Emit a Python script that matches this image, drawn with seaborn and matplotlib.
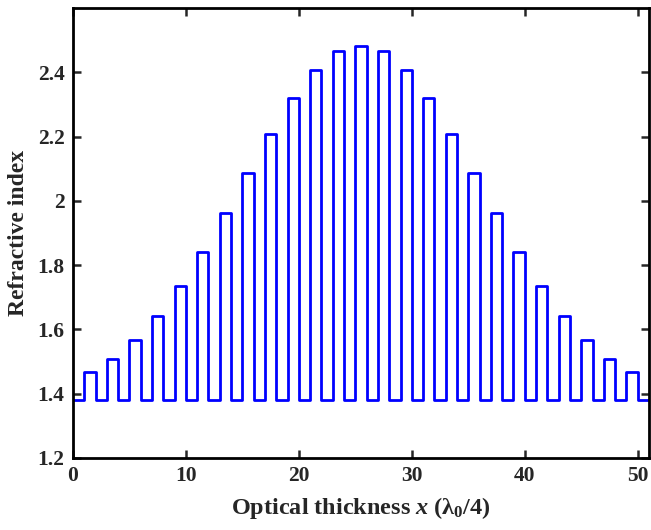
import numpy as np
import pandas as pd
import seaborn as sns
from matplotlib import pyplot as plt
from matplotlib.ticker import FormatStrFormatter

# graded quarter-wave stack: low-index layers alternate with high-index layers
n_low = 1.38
n_high = [1.467, 1.509, 1.567, 1.642, 1.734, 1.842, 1.962, 2.087, 2.209, 2.320,
          2.407, 2.465, 2.482, 2.465, 2.407, 2.320, 2.209, 2.087, 1.962, 1.842,
          1.734, 1.642, 1.567, 1.509, 1.467]
x_ticks = [0, 10, 20, 30, 40, 50]
y_ticks = [1.2, 1.4, 1.6, 1.8, 2.0, 2.2, 2.4]

# layer sequence L H L H ... H L, each one quarter wave thick
layers = [n_low]
for h in n_high:
    layers += [h, n_low]
edges = np.arange(len(layers) + 1)
df = pd.DataFrame({"x": edges, "n": layers + [layers[-1]]})

sns.set_style("ticks")
plt.rcParams["font.family"] = ["Liberation Serif", "DejaVu Serif"]
plt.rcParams["font.weight"] = "bold"
plt.rcParams["mathtext.fontset"] = "custom"
plt.rcParams["mathtext.rm"] = "Liberation Serif:bold"
plt.rcParams["mathtext.it"] = "Liberation Serif:bold:italic"

fig = plt.figure(figsize=(6.51, 5.30), dpi=100)
ax = fig.add_axes([0.112, 0.136, 0.885, 0.849])
sns.lineplot(data=df, x="x", y="n", drawstyle="steps-post", color="#0000ff",
             linewidth=2.0, ax=ax)

ax.set_xlim(0, 51)
ax.set_ylim(1.2, 2.6)
ax.set_xticks(x_ticks)
ax.set_yticks(y_ticks)
ax.yaxis.set_major_formatter(FormatStrFormatter("%g"))
ax.tick_params(direction="in", top=True, right=True, length=6, width=1.8,
               labelsize=15.5, pad=6)
for lab in ax.get_xticklabels() + ax.get_yticklabels():
    lab.set_fontweight("bold")
for s in ax.spines.values():
    s.set_linewidth(2.0)
    s.set_color("black")

ax.set_xlabel("Optical thickness $x$ (λ$_0$/4)", fontsize=17.5, fontweight="bold", labelpad=6)
ax.set_ylabel("Refractive index", fontsize=17, fontweight="bold", labelpad=6)

fig.savefig("out.png", dpi=100)
